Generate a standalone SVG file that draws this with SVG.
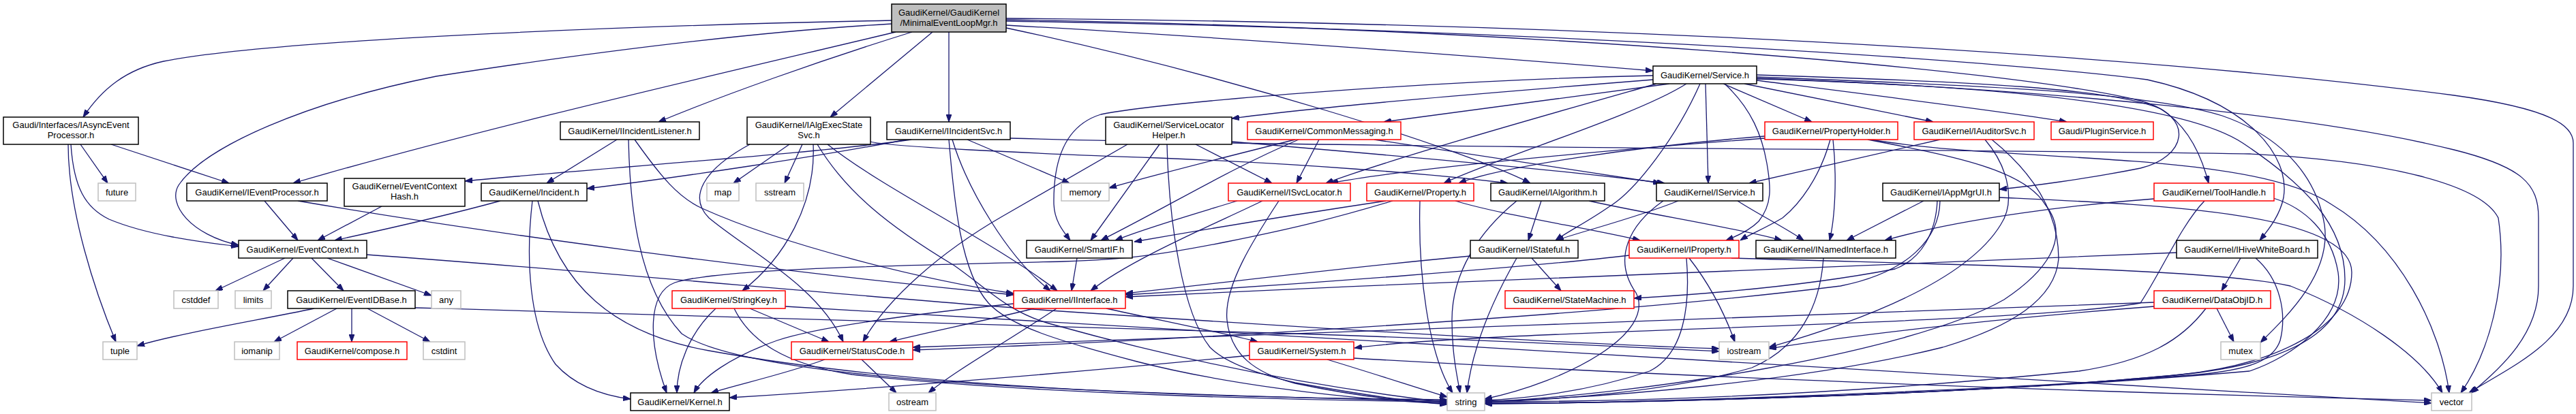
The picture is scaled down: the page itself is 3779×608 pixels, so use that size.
<svg xmlns="http://www.w3.org/2000/svg" width="3779" height="608" viewBox="0 0 3779 608">
<style>
.nd rect{fill:#fff;stroke:#000;stroke-width:1.5}
.sys rect{fill:#fff;stroke:#bfbfbf;stroke-width:1.5}
.trn rect{fill:#fff;stroke:#ff0000;stroke-width:1.5}
.root rect{fill:#bfbfbf;stroke:#000;stroke-width:1.5}
text{font-family:"Liberation Sans",Arial,Helvetica,sans-serif;font-size:13px;text-anchor:middle;fill:#000}
#edges path{fill:none;stroke:#191970;stroke-width:1.3;marker-end:url(#arr)}
</style>
<defs>
<marker id="arr" markerWidth="11" markerHeight="8" refX="11" refY="4" orient="auto" markerUnits="userSpaceOnUse">
<path d="M0,0 L11,4 L0,8 z" fill="#191970" stroke="#191970" stroke-width="1"/>
</marker>
</defs>
<rect x="0" y="0" width="3779" height="608" fill="#fff"/>
<g id="edges">
<path d="M1308,30 C1000,36 420,55 240,90 C185,102 150,130 122,172"/>
<path d="M1308,35 C1050,50 750,95 640,112 C450,150 300,215 262,272 C245,300 280,345 350,360"/>
<path d="M1314,47 C1050,110 700,190 430,269"/>
<path d="M1338,47 C1200,90 1060,140 966,179"/>
<path d="M1368,47 L1218,172"/>
<path d="M1392,47 L1392,179"/>
<path d="M1476,37 C1800,55 2200,85 2425,104"/>
<path d="M1476,41 C1800,110 2150,220 2245,269"/>
<path d="M1476,29 C2200,40 2950,100 3140,148 C3225,172 3205,232 3140,247 C3060,263 2975,274 2933,278"/>
<path d="M1476,31 C2200,42 2900,85 3150,117 C3300,150 3360,230 3350,290 C3345,315 3330,335 3315,353"/>
<path d="M1476,27 C2300,33 3100,75 3600,140 C3745,160 3775,185 3775,210 L3775,420 C3775,500 3680,540 3622,577"/>
<path d="M118,212 L158,269"/>
<path d="M163,212 L336,269"/>
<path d="M104,212 C108,275 125,305 160,322 C215,345 290,355 350,362"/>
<path d="M100,212 C100,310 140,430 170,502"/>
<path d="M388,295 L437,353"/>
<path d="M437,295 C700,340 1100,395 1487,433"/>
<path d="M560,303 L466,353"/>
<path d="M734,295 C650,318 560,338 491,353"/>
<path d="M781,295 C771,380 776,480 815,535 C845,568 885,581 925,586"/>
<path d="M789,295 C820,420 900,490 1040,515 C1400,580 1900,585 2123,587"/>
<path d="M905,205 L802,269"/>
<path d="M922,205 C924,300 935,420 1000,490 C1100,560 1600,578 2123,589"/>
<path d="M931,205 C970,260 995,290 1030,306 C1150,360 1350,410 1487,431"/>
<path d="M1100,212 C1030,250 1010,290 1040,320 C1100,370 1200,420 1237,502"/>
<path d="M1158,212 L1076,269"/>
<path d="M1177,212 L1151,269"/>
<path d="M1193,212 C1197,300 1150,380 1089,427"/>
<path d="M1199,212 C1240,280 1300,330 1400,390 C1450,425 1480,460 1546,477 C1700,520 1900,565 2123,591"/>
<path d="M1214,212 C1300,280 1450,350 1551,427"/>
<path d="M1277,208 C1300,215 1500,225 1700,232 C1900,240 2100,255 2212,269"/>
<path d="M1337,205 C1200,225 900,245 682,266"/>
<path d="M1330,205 C1200,230 1000,260 861,277"/>
<path d="M1397,205 C1420,280 1480,380 1541,427"/>
<path d="M1392,205 C1400,300 1410,400 1450,445 C1480,478 1550,500 1668,531 C1780,560 1950,585 2123,593"/>
<path d="M1419,205 L1569,269"/>
<path d="M1482,203 C2000,218 3000,220 3300,226 C3500,236 3640,270 3665,320 C3680,420 3650,520 3610,577"/>
<path d="M1654,212 L1470,318 C1380,370 1300,440 1266,502"/>
<path d="M1701,212 L1600,353"/>
<path d="M1712,212 C1715,330 1735,460 1775,510 C1800,535 1850,550 1900,562 C2000,580 2070,590 2123,594"/>
<path d="M1754,212 L1866,269"/>
<path d="M1807,208 C2000,225 2250,245 2442,269"/>
<path d="M1900,205 C1800,230 1700,255 1627,276"/>
<path d="M1905,205 C1800,250 1720,300 1615,353"/>
<path d="M1935,205 L1902,269"/>
<path d="M2016,205 L2436,269"/>
<path d="M2425,117 C2200,135 1950,155 1807,174"/>
<path d="M2425,111 C2100,118 1700,150 1615,168 C1560,185 1545,240 1546,300 C1547,325 1560,340 1570,353"/>
<path d="M2449,123 L2030,179"/>
<path d="M2430,123 C2300,160 2050,230 1945,269"/>
<path d="M2474,123 C2400,170 2200,230 2118,269"/>
<path d="M2494,123 C2460,200 2400,280 2360,304 C2330,325 2300,340 2282,353"/>
<path d="M2502,123 L2506,269"/>
<path d="M2528,123 L2658,179"/>
<path d="M2559,123 L2836,179"/>
<path d="M2577,118 C2750,140 2950,165 3032,179"/>
<path d="M2530,123 C2570,160 2585,200 2592,240 C2598,275 2600,300 2580,325 C2565,340 2545,348 2532,353"/>
<path d="M2577,110 C2900,120 3100,130 3170,160 C3210,185 3230,230 3240,269"/>
<path d="M2577,113 C2900,125 3150,135 3260,170 C3360,205 3400,270 3410,330 C3420,400 3360,460 3316,503"/>
<path d="M2577,115 C3000,130 3400,170 3600,220 C3700,245 3724,270 3724,320 L3724,420 C3724,490 3670,540 3625,577"/>
<path d="M2577,116 C2900,125 3200,150 3290,210 C3380,270 3440,330 3440,410 C3440,490 3350,535 3200,550 C2900,580 2400,592 2178,592"/>
<path d="M2589,200 C2400,215 2200,245 2140,269"/>
<path d="M2589,203 C2300,225 2050,250 1952,269"/>
<path d="M2685,205 C2670,260 2640,300 2615,320 C2590,335 2565,345 2553,353"/>
<path d="M2689,205 C2695,260 2692,320 2684,353"/>
<path d="M2740,205 C2870,230 2970,250 3000,300 C3040,350 3000,400 2940,440 C2800,520 2400,580 2178,590"/>
<path d="M2745,205 C2950,240 3300,220 3420,300 C3520,360 3580,480 3593,577"/>
<path d="M2846,205 L2566,269"/>
<path d="M2912,205 C2950,250 2955,300 2935,330 C2880,420 2700,480 2595,510"/>
<path d="M2922,205 C2990,260 3020,320 3020,380 C3015,440 2950,480 2850,510 C2650,560 2350,585 2178,589"/>
<path d="M2822,295 L2709,353"/>
<path d="M2842,295 C2840,340 2820,380 2780,395 C2650,420 2500,432 2397,438"/>
<path d="M2846,295 C2845,350 2800,400 2700,420 C2300,470 1600,505 1339,514"/>
<path d="M2933,290 C3150,300 3450,310 3450,400 C3450,480 3340,535 3200,550 C2900,580 2400,592 2178,592"/>
<path d="M3160,292 C3050,300 2880,320 2765,353"/>
<path d="M3234,295 C3200,330 3170,400 3140,445 C3000,470 2500,480 2200,495 C2100,500 2030,505 1987,511"/>
<path d="M3335,291 C3380,305 3420,340 3430,400 C3440,470 3360,525 3300,545 C2900,580 2400,592 2178,593"/>
<path d="M3252,453 L3277,502"/>
<path d="M3236,453 C3200,500 3150,530 3050,545 C2700,580 2400,590 2178,590"/>
<path d="M3160,450 C2900,470 2700,495 2595,512"/>
<path d="M3160,444 C2700,460 1800,495 1339,510"/>
<path d="M3287,379 L3259,427"/>
<path d="M3193,371 C2800,385 2200,410 1651,436"/>
<path d="M3309,379 C3345,410 3355,460 3345,500 C3335,530 3300,545 3200,552 C2900,575 2400,592 2178,593"/>
<path d="M2390,375 C2250,392 1900,418 1651,433"/>
<path d="M2478,379 C2510,420 2530,460 2545,502"/>
<path d="M2474,379 C2480,450 2470,520 2420,545 C2330,575 2240,585 2178,588"/>
<path d="M2540,379 C2900,390 3250,395 3360,420 C3460,460 3550,520 3583,577"/>
<path d="M2675,379 C2670,450 2640,510 2570,540 C2450,575 2280,588 2178,590"/>
<path d="M2157,376 C1950,395 1800,415 1651,431"/>
<path d="M2225,379 C2190,440 2160,510 2152,577"/>
<path d="M2247,379 L2290,427"/>
<path d="M2261,295 L2242,353"/>
<path d="M2225,295 C2170,340 2130,400 2130,470 C2130,520 2138,555 2142,577"/>
<path d="M2331,295 C2420,315 2550,335 2614,353"/>
<path d="M2033,295 C1900,315 1750,340 1664,355"/>
<path d="M2043,295 C1960,320 1900,335 1800,355 C1700,375 1650,381 1560,384 C1300,390 1050,395 990,415 C950,430 950,500 978,577"/>
<path d="M2083,295 C2080,400 2095,520 2131,577"/>
<path d="M2135,295 C2200,315 2330,335 2406,353"/>
<path d="M2462,295 C2400,320 2320,340 2283,353"/>
<path d="M2440,295 C2390,330 2365,380 2400,430 C2430,490 2300,560 2178,586"/>
<path d="M2549,295 C2580,315 2620,335 2646,353"/>
<path d="M1852,295 C1780,330 1660,380 1600,427"/>
<path d="M1815,295 C1750,315 1680,335 1636,353"/>
<path d="M1876,295 C1840,350 1795,420 1800,470 C1805,520 1840,548 1900,563 C1990,582 2060,590 2123,592"/>
<path d="M1580,379 L1572,427"/>
<path d="M1050,453 C1010,490 993,540 993,577"/>
<path d="M1077,453 C1100,500 1150,535 1250,550 C1500,578 1900,588 2123,590"/>
<path d="M1100,453 L1216,502"/>
<path d="M1152,450 C1500,470 2500,530 3567,592"/>
<path d="M1210,528 C1150,550 1080,565 1043,577"/>
<path d="M1264,528 L1315,577"/>
<path d="M1487,446 C1350,460 1200,480 1140,500 C1070,525 1030,555 1018,577"/>
<path d="M1517,453 C1450,470 1350,490 1305,502"/>
<path d="M1550,453 C1480,500 1400,545 1362,577"/>
<path d="M1623,453 C1700,470 1800,490 1845,502"/>
<path d="M1947,528 C2020,550 2080,570 2123,583"/>
<path d="M1833,522 C1600,545 1300,570 1070,584"/>
<path d="M1986,526 C2400,550 3000,575 3567,588"/>
<path d="M418,379 L316,427"/>
<path d="M430,379 L386,427"/>
<path d="M457,379 L504,427"/>
<path d="M480,379 L633,434"/>
<path d="M538,374 C900,400 1300,440 1570,458 C1900,480 2300,505 2522,512"/>
<path d="M461,453 C380,470 260,490 201,508"/>
<path d="M494,453 L402,502"/>
<path d="M516,453 L516,502"/>
<path d="M539,453 L631,502"/>
<path d="M609,452 C1100,465 1600,480 1900,490 C2200,500 2400,510 2522,516"/>
</g>
<g id="n_root" class="root"><rect x="1308" y="6" width="168" height="41"/><text x="1392" y="23">GaudiKernel/GaudiKernel</text><text x="1392" y="38">/MinimalEventLoopMgr.h</text></g>
<g id="n_IAsyncEventProcessor" class="nd"><rect x="5" y="172" width="198" height="40"/><text x="104" y="188">Gaudi/Interfaces/IAsyncEvent</text><text x="104" y="203">Processor.h</text></g>
<g id="n_IIncidentListener" class="nd"><rect x="822" y="179" width="204" height="26"/><text x="924" y="197">GaudiKernel/IIncidentListener.h</text></g>
<g id="n_IAlgExecStateSvc" class="nd"><rect x="1096" y="172" width="181" height="40"/><text x="1186.5" y="188">GaudiKernel/IAlgExecState</text><text x="1186.5" y="203">Svc.h</text></g>
<g id="n_IIncidentSvc" class="nd"><rect x="1301" y="179" width="181" height="26"/><text x="1391.5" y="197">GaudiKernel/IIncidentSvc.h</text></g>
<g id="n_ServiceLocatorHelper" class="nd"><rect x="1622" y="172" width="185" height="40"/><text x="1714.5" y="188">GaudiKernel/ServiceLocator</text><text x="1714.5" y="203">Helper.h</text></g>
<g id="n_CommonMessaging" class="trn"><rect x="1830" y="179" width="225" height="26"/><text x="1942.5" y="197">GaudiKernel/CommonMessaging.h</text></g>
<g id="n_Service" class="nd"><rect x="2425" y="97" width="152" height="26"/><text x="2501" y="115">GaudiKernel/Service.h</text></g>
<g id="n_PropertyHolder" class="trn"><rect x="2589" y="179" width="195" height="26"/><text x="2686.5" y="197">GaudiKernel/PropertyHolder.h</text></g>
<g id="n_IAuditorSvc" class="trn"><rect x="2808" y="179" width="176" height="26"/><text x="2896" y="197">GaudiKernel/IAuditorSvc.h</text></g>
<g id="n_PluginService" class="trn"><rect x="3009" y="179" width="150" height="26"/><text x="3084" y="197">Gaudi/PluginService.h</text></g>
<g id="n_future" class="sys"><rect x="144" y="269" width="55" height="26"/><text x="171.5" y="287">future</text></g>
<g id="n_IEventProcessor" class="nd"><rect x="274" y="269" width="206" height="26"/><text x="377" y="287">GaudiKernel/IEventProcessor.h</text></g>
<g id="n_EventContextHash" class="nd"><rect x="505" y="262" width="177" height="41"/><text x="593.5" y="278">GaudiKernel/EventContext</text><text x="593.5" y="293">Hash.h</text></g>
<g id="n_Incident" class="nd"><rect x="706" y="269" width="155" height="26"/><text x="783.5" y="287">GaudiKernel/Incident.h</text></g>
<g id="n_map" class="sys"><rect x="1037" y="269" width="47" height="26"/><text x="1060.5" y="287">map</text></g>
<g id="n_sstream" class="sys"><rect x="1109" y="269" width="70" height="26"/><text x="1144" y="287">sstream</text></g>
<g id="n_memory" class="sys"><rect x="1557" y="269" width="70" height="26"/><text x="1592" y="287">memory</text></g>
<g id="n_ISvcLocator" class="trn"><rect x="1802" y="269" width="179" height="26"/><text x="1891.5" y="287">GaudiKernel/ISvcLocator.h</text></g>
<g id="n_Property" class="trn"><rect x="2005" y="269" width="157" height="26"/><text x="2083.5" y="287">GaudiKernel/Property.h</text></g>
<g id="n_IAlgorithm" class="nd"><rect x="2187" y="269" width="167" height="26"/><text x="2270.5" y="287">GaudiKernel/IAlgorithm.h</text></g>
<g id="n_IService" class="nd"><rect x="2430" y="269" width="156" height="26"/><text x="2508" y="287">GaudiKernel/IService.h</text></g>
<g id="n_IAppMgrUI" class="nd"><rect x="2762" y="269" width="171" height="26"/><text x="2847.5" y="287">GaudiKernel/IAppMgrUI.h</text></g>
<g id="n_ToolHandle" class="trn"><rect x="3160" y="269" width="176" height="26"/><text x="3248" y="287">GaudiKernel/ToolHandle.h</text></g>
<g id="n_EventContext" class="nd"><rect x="350" y="353" width="188" height="26"/><text x="444" y="371">GaudiKernel/EventContext.h</text></g>
<g id="n_SmartIF" class="nd"><rect x="1506" y="353" width="155" height="26"/><text x="1583.5" y="371">GaudiKernel/SmartIF.h</text></g>
<g id="n_IStateful" class="nd"><rect x="2157" y="353" width="158" height="26"/><text x="2236" y="371">GaudiKernel/IStateful.h</text></g>
<g id="n_IProperty" class="trn"><rect x="2390" y="353" width="161" height="26"/><text x="2470.5" y="371">GaudiKernel/IProperty.h</text></g>
<g id="n_INamedInterface" class="nd"><rect x="2576" y="353" width="205" height="26"/><text x="2678.5" y="371">GaudiKernel/INamedInterface.h</text></g>
<g id="n_IHiveWhiteBoard" class="nd"><rect x="3193" y="353" width="207" height="26"/><text x="3296.5" y="371">GaudiKernel/IHiveWhiteBoard.h</text></g>
<g id="n_cstddef" class="sys"><rect x="255" y="427" width="65" height="26"/><text x="287.5" y="445">cstddef</text></g>
<g id="n_limits" class="sys"><rect x="345" y="427" width="53" height="26"/><text x="371.5" y="445">limits</text></g>
<g id="n_EventIDBase" class="nd"><rect x="422" y="427" width="187" height="26"/><text x="515.5" y="445">GaudiKernel/EventIDBase.h</text></g>
<g id="n_any" class="sys"><rect x="633" y="427" width="43" height="26"/><text x="654.5" y="445">any</text></g>
<g id="n_StringKey" class="trn"><rect x="986" y="427" width="166" height="26"/><text x="1069" y="445">GaudiKernel/StringKey.h</text></g>
<g id="n_IInterface" class="trn"><rect x="1487" y="427" width="164" height="26"/><text x="1569" y="445">GaudiKernel/IInterface.h</text></g>
<g id="n_StateMachine" class="trn"><rect x="2208" y="427" width="189" height="26"/><text x="2302.5" y="445">GaudiKernel/StateMachine.h</text></g>
<g id="n_DataObjID" class="trn"><rect x="3160" y="427" width="171" height="26"/><text x="3245.5" y="445">GaudiKernel/DataObjID.h</text></g>
<g id="n_tuple" class="sys"><rect x="151" y="502" width="50" height="26"/><text x="176" y="520">tuple</text></g>
<g id="n_iomanip" class="sys"><rect x="344" y="502" width="66" height="26"/><text x="377" y="520">iomanip</text></g>
<g id="n_compose" class="trn"><rect x="436" y="502" width="161" height="26"/><text x="516.5" y="520">GaudiKernel/compose.h</text></g>
<g id="n_cstdint" class="sys"><rect x="621" y="502" width="61" height="26"/><text x="651.5" y="520">cstdint</text></g>
<g id="n_StatusCode" class="trn"><rect x="1161" y="502" width="178" height="26"/><text x="1250" y="520">GaudiKernel/StatusCode.h</text></g>
<g id="n_System" class="trn"><rect x="1833" y="502" width="153" height="26"/><text x="1909.5" y="520">GaudiKernel/System.h</text></g>
<g id="n_iostream" class="sys"><rect x="2522" y="502" width="73" height="26"/><text x="2558.5" y="520">iostream</text></g>
<g id="n_mutex" class="sys"><rect x="3258" y="502" width="58" height="26"/><text x="3287" y="520">mutex</text></g>
<g id="n_Kernel" class="nd"><rect x="925" y="577" width="145" height="26"/><text x="997.5" y="595">GaudiKernel/Kernel.h</text></g>
<g id="n_ostream" class="sys"><rect x="1304" y="577" width="69" height="26"/><text x="1338.5" y="595">ostream</text></g>
<g id="n_string" class="sys"><rect x="2123" y="577" width="55" height="26"/><text x="2150.5" y="595">string</text></g>
<g id="n_vector" class="sys"><rect x="3567" y="577" width="59" height="26"/><text x="3596.5" y="595">vector</text></g>
</svg>
